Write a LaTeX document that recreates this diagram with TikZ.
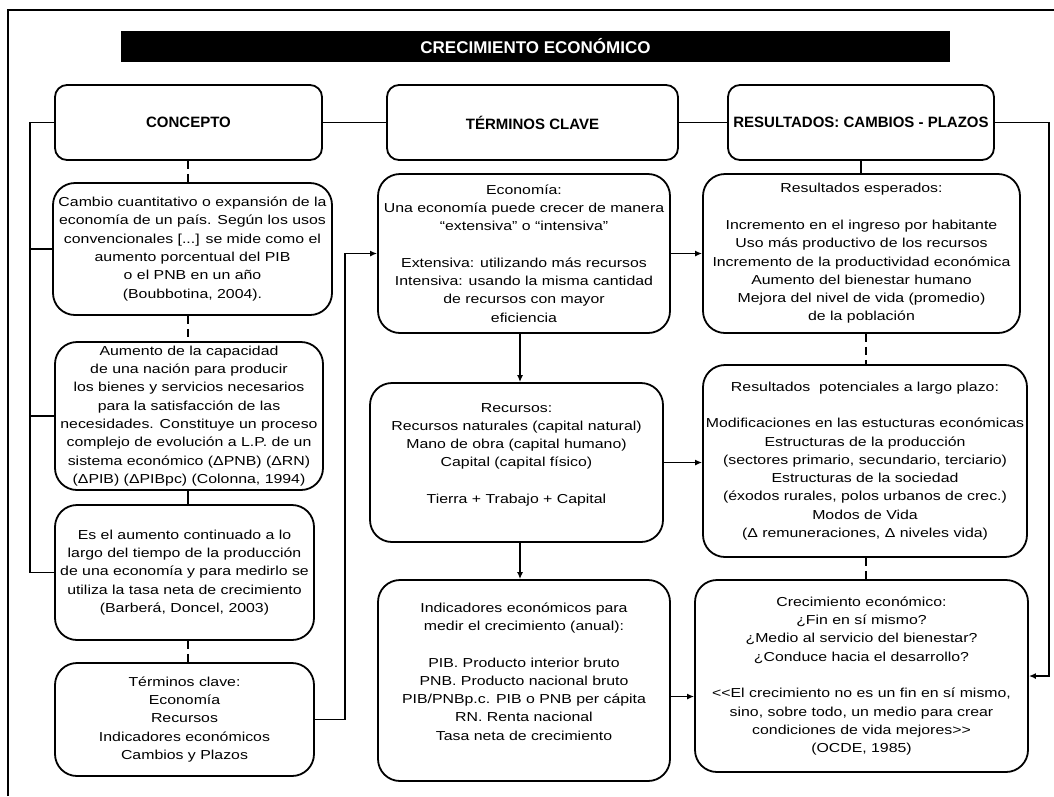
\documentclass[tikz,border=0pt]{standalone}
\usepackage{fontspec}
\setmainfont{Liberation Sans}
\newfontfamily\bodyface[FakeStretch=1.22]{Liberation Sans}
\usetikzlibrary{arrows.meta}

\newcommand{\bodytext}{\bodyface\fontsize{13}{18.3}\selectfont}
\newcommand{\headtext}{\bfseries\fontsize{15}{18}\selectfont}

\tikzset{
  box/.style={draw=black, line width=1.8pt, rounded corners=22pt, align=center,
    inner sep=1pt, font=\bodytext, fill=white},
  head/.style={draw=black, line width=1.8pt, rounded corners=12pt, align=center,
    inner sep=1pt, font=\headtext, fill=white, minimum height=75pt},
  link/.style={line width=1.8pt, draw=black},
  arr/.style={link, -{Latex[length=7pt,width=6pt]}},
  dlink/.style={link, dash pattern=on 8pt off 5pt},
}

\begin{document}
\begin{tikzpicture}[x=1pt,y=-1pt]
\useasboundingbox (0,0) rectangle (1054,796);

% outer frame (only the top and left edges lie inside the page)
\draw[line width=2.2pt] (8,796) -- (8,10) -- (1054,10);

% title bar
\node[fill=black, minimum width=829pt, minimum height=31pt, inner sep=0pt,
      text=white, font=\bfseries\fontsize{17}{20}\selectfont] (title) at (535.5,46.5)
      {CRECIMIENTO ECONÓMICO};

% column headers
\node[head, minimum width=267pt] (concepto) at (188.5,122.5) {CONCEPTO};
\node[head, minimum width=291pt] (terminos) at (532.5,122.5) {TÉRMINOS CLAVE};
\node[head, minimum width=266pt] (resultados) at (861,122.5) {RESULTADOS: CAMBIOS - PLAZOS};

% concept column
\node[box, minimum width=279pt, minimum height=132pt] (b1) at (192.5,249)
  {Cambio cuantitativo o expansión de la\\
   economía de un país. Según los usos\\
   convencionales [...] se mide como el\\
   aumento porcentual del PIB\\
   o el PNB en un año\\
   (Boubbotina, 2004).};
\node[box, minimum width=268pt, minimum height=148pt] (b2) at (189,416)
  {Aumento de la capacidad\\
   de una nación para producir\\
   los bienes y servicios necesarios\\
   para la satisfacción de las\\
   necesidades. Constituye un proceso\\
   complejo de evolución a L.P. de un\\
   sistema económico (ΔPNB) (ΔRN)\\
   (ΔPIB) (ΔPIBpc) (Colonna, 1994)};
\node[box, minimum width=259pt, minimum height=135pt] (b3) at (184.5,572.5)
  {Es el aumento continuado a lo\\
   largo del tiempo de la producción\\
   de una economía y para medirlo se\\
   utiliza la tasa neta de crecimiento\\
   (Barberá, Doncel, 2003)};
\node[box, minimum width=259pt, minimum height=113pt] (b4) at (184.5,719.5)
  {Términos clave:\\
   Economía\\
   Recursos\\
   Indicadores económicos\\
   Cambios y Plazos};

% key terms column
\node[box, minimum width=292pt, minimum height=159pt] (eco) at (524,253.5)
  {Economía:\\
   Una economía puede crecer de manera\\
   “extensiva” o “intensiva”\\
   \mbox{}\\
   Extensiva: utilizando más recursos\\
   Intensiva: usando la misma cantidad\\
   de recursos con mayor\\
   eficiencia};
\node[box, minimum width=293pt, minimum height=159pt] (rec) at (516.5,462.5)
  {Recursos:\\
   Recursos naturales (capital natural)\\
   Mano de obra (capital humano)\\
   Capital (capital físico)\\
   \mbox{}\\
   Tierra + Trabajo + Capital\\
   \mbox{}};
\node[box, minimum width=292pt, minimum height=201pt] (ind) at (524,680.5)
  {Indicadores económicos para\\
   medir el crecimiento (anual):\\
   \mbox{}\\
   PIB. Producto interior bruto\\
   PNB. Producto nacional bruto\\
   PIB/PNBp.c. PIB o PNB per cápita\\
   RN. Renta nacional\\
   Tasa neta de crecimiento\\
   \mbox{}};

% results column
\node[box, minimum width=317pt, minimum height=159pt] (resesp) at (861.5,253.5)
  {Resultados esperados:\\
   \mbox{}\\
   Incremento en el ingreso por habitante\\
   Uso más productivo de los recursos\\
   Incremento de la productividad económica\\
   Aumento del bienestar humano\\
   Mejora del nivel de vida (promedio)\\
   de la población};
\node[box, minimum width=324pt, minimum height=192pt] (respot) at (865,461)
  {Resultados\ \ potenciales a largo plazo:\\
   \mbox{}\\
   Modificaciones en las estucturas económicas\\
   Estructuras de la producción\\
   (sectores primario, secundario, terciario)\\
   Estructuras de la sociedad\\
   (éxodos rurales, polos urbanos de crec.)\\
   Modos de Vida\\
   (Δ remuneraciones, Δ niveles vida)};
\node[box, minimum width=333pt, minimum height=192pt] (crec) at (861.5,676)
  {Crecimiento económico:\\
   ¿Fin en sí mismo?\\
   ¿Medio al servicio del bienestar?\\
   ¿Conduce hacia el desarrollo?\\
   \mbox{}\\
   <<El crecimiento no es un fin en sí mismo,\\
   sino, sobre todo, un medio para crear\\
   condiciones de vida mejores>>\\
   (OCDE, 1985)};

% routing columns for the connectors
\coordinate (spine) at (30,0);
\coordinate (jog) at (345,0);
\coordinate (rail) at (1049,0);
\coordinate (lx) at (188,0);
\coordinate (mx) at (520,0);
\coordinate (rx) at (866,0);

% header row
\draw[link] (concepto.east) -- (terminos.west);
\draw[link] (terminos.east) -- (resultados.west);
\draw[arr] (resultados.east) -- (resultados.east -| rail) -- (crec.east -| rail) -- (crec.east);

% concept column links
\draw[link] (concepto.west) -- (concepto.west -| spine) -- (b3.west -| spine) -- (b3.west);
\draw[link] (b1.west -| spine) -- (b1.west);
\draw[link] (b2.west -| spine) -- (b2.west);
\draw[dlink] (concepto.south -| lx) -- (b1.north -| lx);
\draw[dlink] (b1.south -| lx) -- (b2.north -| lx);
\draw[link] (b2.south -| lx) -- (b3.north -| lx);
\draw[dlink] (b3.south -| lx) -- (b4.north -| lx);
\draw[arr] (b4.east) -- (b4.east -| jog) -- (eco.west -| jog) -- (eco.west);

% key terms column links
\draw[arr] (eco.south -| mx) -- (rec.north -| mx);
\draw[arr] (rec.south -| mx) -- (ind.north -| mx);
\draw[arr] (eco.east) -- (eco.east -| resesp.west);
\draw[arr] (rec.east) -- (rec.east -| respot.west);
\draw[arr] ([yshift=-16pt]ind.east) -- ([yshift=-16pt]ind.east -| crec.west);

% results column links
\draw[link] (resultados.south) -- (resultados.south |- resesp.north);
\draw[dlink] (resesp.south -| rx) -- (respot.north -| rx);
\draw[dlink] (respot.south -| rx) -- (crec.north -| rx);
\end{tikzpicture}
\end{document}
